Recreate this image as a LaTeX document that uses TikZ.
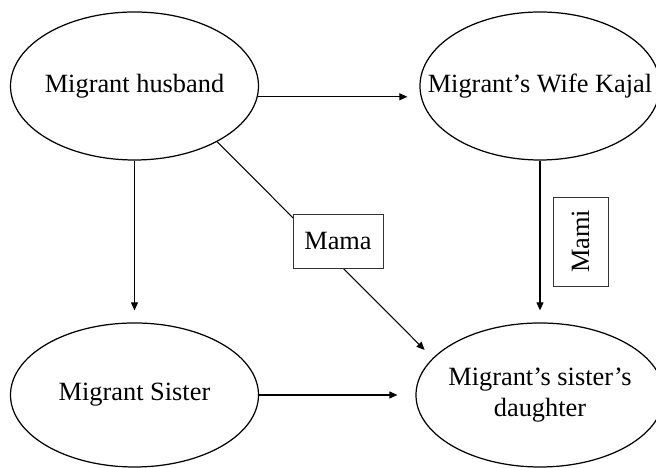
\documentclass[tikz,border=0pt]{standalone}
\usepackage{fontspec}
\setmainfont{Liberation Serif}
\usetikzlibrary{arrows.meta,shapes.geometric}

\begin{document}
\begin{tikzpicture}[
		person/.style={ellipse, draw, line width=0.7pt, inner sep=0pt,
			minimum width=4.96cm, minimum height=2.96cm},
		persontext/.style={align=center, font=\fontsize{15}{17.5}\selectfont},
		tag/.style={rectangle, draw=black!80, line width=0.5pt, fill=white,
			font=\fontsize{15}{17.5}\selectfont},
		link/.style={line width=0.6pt, -{Triangle[length=1.6mm,width=1.4mm]}}
	]
	%%%%% START %%%%%
	
	\useasboundingbox (0, 0) rectangle (13.12, 9.36);
	
	\node[person, label={[persontext]center:Migrant husband}] (husband) at (2.69, 7.64) {};
	\node[person, minimum width=4.8cm, label={[persontext]center:Migrant’s Wife Kajal}] (wife) at (10.8, 7.64) {};
	\node[person, minimum height=2.88cm, label={[persontext]center:Migrant Sister}] (sister) at (2.69, 1.46) {};
	\node[person, minimum height=2.88cm, label={[persontext]center:Migrant’s sister’s\\daughter}] (daughter) at (10.8, 1.46) {};
	
	\draw[link, shorten >=0.24cm] (husband.-5) -- (husband.-5 -| wife.west);
	\draw[link, shorten >=0.24cm] (husband.south) -- (sister.north);
	\draw[link, shorten >=0.24cm] (wife.south) -- (daughter.north);
	\draw[link, shorten >=0.36cm] (sister.east) -- (daughter.west);
	\draw[link, shorten >=0.23cm] (husband.-34) -- (daughter.161.6);
	
	\node[tag, minimum width=1.8cm, minimum height=1.08cm] (mama) at (6.76, 4.54) {Mama};
	\node[tag, rotate=90, minimum width=1.78cm, minimum height=1.1cm] (mami) at (11.61, 4.53) {Mami};
	
	%%%%% END %%%%%
\end{tikzpicture}
\end{document}
